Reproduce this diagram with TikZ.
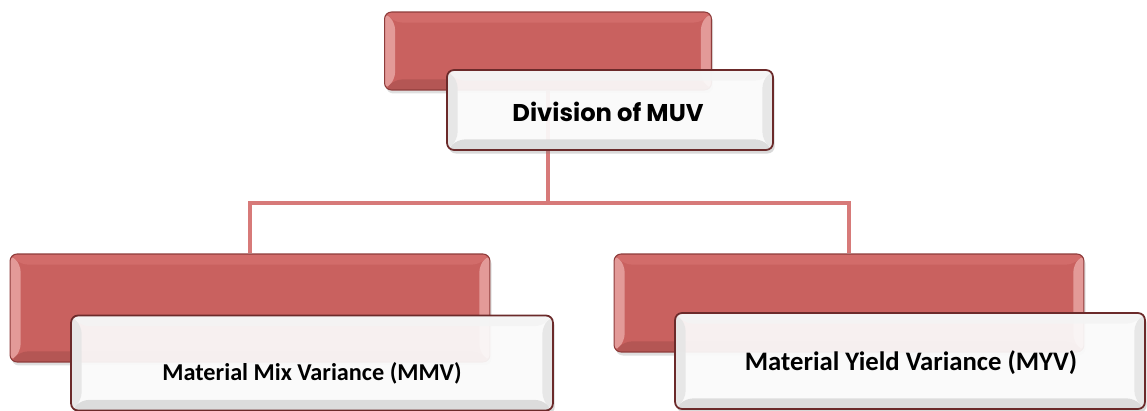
\documentclass[tikz,border=0pt]{standalone}
\usepackage{fontspec}
\newfontfamily\headfont{Poppins}
\newfontfamily\leaffont{Carlito}
\usetikzlibrary{positioning, calc, shadows}

\definecolor{boxred}{HTML}{C9615F}
\definecolor{redside}{HTML}{E39A98}
\definecolor{redtop}{HTML}{D26C6A}
\definecolor{redbottom}{HTML}{B45654}
\definecolor{rededge}{HTML}{8E3C3B}
\definecolor{whiteside}{HTML}{E6E6E6}
\definecolor{whitetop}{HTML}{F4F4F4}
\definecolor{whitebottom}{HTML}{DADADA}
\definecolor{whiteedge}{HTML}{6B2A2A}
\definecolor{linkred}{HTML}{D77A79}

\pgfdeclarelayer{background}
\pgfsetlayers{background,main}

\begin{document}
\begin{tikzpicture}[
    x=0.02cm, y=-0.02cm,
    bevel/.style n args={4}{
        fill=#1,
        path picture={
            \path (path picture bounding box.south west) coordinate (sw)
                  (path picture bounding box.north east) coordinate (ne);
            \fill[#2] (sw) -- ($(sw)+(6pt,6pt)$) -- ($(sw|-ne)+(6pt,-6pt)$) -- (sw|-ne) -- cycle;
            \fill[#2] (ne|-sw) -- ($(ne|-sw)+(-6pt,6pt)$) -- ($(ne)+(-6pt,-6pt)$) -- (ne) -- cycle;
            \fill[#3] (sw|-ne) -- (ne) -- ($(ne)+(-6pt,-6pt)$) -- ($(sw|-ne)+(6pt,-6pt)$) -- cycle;
            \fill[#4] (sw) -- (ne|-sw) -- ($(ne|-sw)+(-6pt,6pt)$) -- ($(sw)+(6pt,6pt)$) -- cycle;
        }
    },
    redbox/.style={draw=rededge, line width=0.6pt, rounded corners=4pt,
        bevel={boxred}{redside}{redtop}{redbottom},
        drop shadow={opacity=0.25, shadow xshift=1pt, shadow yshift=-2pt}},
    whitebox/.style={draw=whiteedge, line width=1pt, rounded corners=4pt,
        fill opacity=0.9,
        bevel={white}{whiteside}{whitetop}{whitebottom},
        drop shadow={opacity=0.3, shadow xshift=1pt, shadow yshift=-2pt}},
    headtext/.style={font=\headfont\bfseries\fontsize{13.8}{16}\selectfont},
    leaftext/.style={font=\leaffont\bfseries\fontsize{13.8}{16}\selectfont},
    link/.style={draw=linkred, line width=2.8pt}
]
\useasboundingbox (0,0) rectangle (1147,411);

% Top: division of MUV
\node[redbox, minimum width=6.54cm, minimum height=1.56cm] (muvred) at (548,51) {};
\node[whitebox, minimum width=6.52cm, minimum height=1.6cm] (muvbox) at (610,110) {};
\node[headtext] (muvtext) at (608,112) {Division of MUV};

% Left branch: mix variance
\node[redbox, minimum width=9.6cm, minimum height=2.16cm] (mmvred) at (250,308) {};
\node[whitebox, minimum width=9.64cm, minimum height=1.9cm] (mmvbox) at (312,363) {};
\node[leaftext] (mmvtext) at (312,373) {Material Mix Variance (MMV)};

% Right branch: yield variance
\node[redbox, minimum width=9.4cm, minimum height=1.96cm] (myvred) at (849,303) {};
\node[whitebox, minimum width=9.4cm, minimum height=1.92cm] (myvbox) at (910,361) {};
\node[leaftext, font=\leaffont\bfseries\fontsize{15.2}{18}\selectfont] (myvtext) at (911,363) {Material Yield Variance (MYV)};

% Connectors (behind the boxes)
\coordinate (split) at (548,203);
\begin{pgfonlayer}{background}
\path[link] (muvred.south) -- (split);
\path[link] (mmvred.north) |- (split) -| (myvred.north);
\end{pgfonlayer}

\end{tikzpicture}
\end{document}
